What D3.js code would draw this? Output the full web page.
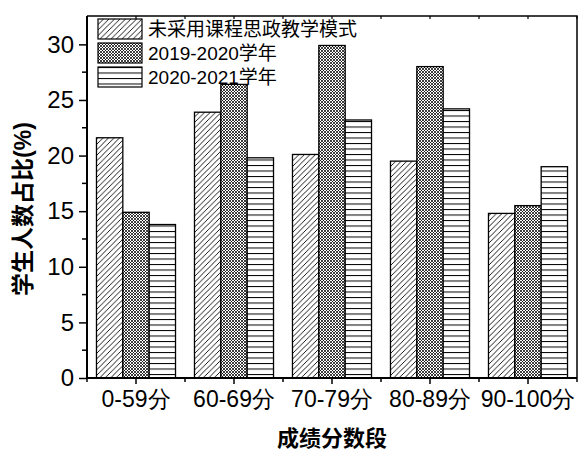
<!DOCTYPE html>
<html>
<head>
<meta charset="utf-8">
<script src="https://cdn.jsdelivr.net/npm/d3@7"></script>
<style>
  body { margin: 0; background: #fff; }
  svg { display: block; font-family: "Liberation Sans", Arial, "Noto Sans CJK SC", sans-serif; }
</style>
</head>
<body>
<svg id="chart"></svg>
<script>
const categories = ['0-59分', '60-69分', '70-79分', '80-89分', '90-100分'];
const series = ['未采用课程思政教学模式', '2019-2020学年', '2020-2021学年'];
const noIdeology = [21.6, 23.9, 20.1, 19.5, 14.8];
const year2019 = [14.9, 26.4, 29.9, 28.0, 15.5];
const year2020 = [13.8, 19.8, 23.2, 24.2, 19.0];
const yTicks = [0, 5, 10, 15, 20, 25, 30];

const W = 579, H = 452;
const margin = {top: 16, right: 2, bottom: 74, left: 87};

const svg = d3.select('#chart').attr('width', W).attr('height', H);

// fill patterns
const defs = svg.append('defs');
const diag = defs.append('pattern').attr('id', 'p0')
  .attr('patternUnits', 'userSpaceOnUse').attr('width', 5.5).attr('height', 5.5);
diag.append('rect').attr('width', 5.5).attr('height', 5.5).attr('fill', '#fff');
diag.append('path').attr('d', 'M-1,6.5 L6.5,-1 M-1,1 L1,-1 M4.5,6.5 L6.5,4.5')
  .attr('stroke', '#000').attr('stroke-width', 0.9);

const cross = defs.append('pattern').attr('id', 'p1')
  .attr('patternUnits', 'userSpaceOnUse').attr('width', 3).attr('height', 3);
cross.append('rect').attr('width', 3).attr('height', 3).attr('fill', '#fff');
cross.append('path').attr('d', 'M0,0 L3,3 M3,0 L0,3')
  .attr('stroke', '#000').attr('stroke-width', 0.75);

const horiz = defs.append('pattern').attr('id', 'p2')
  .attr('patternUnits', 'userSpaceOnUse').attr('width', 6).attr('height', 5.5);
horiz.append('rect').attr('width', 6).attr('height', 5.5).attr('fill', '#fff');
horiz.append('line').attr('x1', 0).attr('x2', 6).attr('y1', 0.5).attr('y2', 0.5)
  .attr('stroke', '#000').attr('stroke-width', 1);

const fills = ['url(#p0)', 'url(#p1)', 'url(#p2)'];

const x0 = d3.scaleBand().domain(categories)
  .range([margin.left, W - margin.right]).padding(0);
const x1 = d3.scaleBand().domain(series)
  .range([0, x0.bandwidth()]).paddingInner(0).paddingOuter(0.36);
const y = d3.scaleLinear().domain([0, 32.55])
  .range([H - margin.bottom, margin.top]);

const rows = categories.map((c, i) => ({
  cat: c,
  vals: [noIdeology[i], year2019[i], year2020[i]]
}));

// bars
svg.append('g').selectAll('g')
  .data(rows)
  .join('g')
  .attr('transform', d => `translate(${x0(d.cat)},0)`)
  .selectAll('rect')
  .data(d => d.vals.map((v, k) => ({s: series[k], v: v, k: k})))
  .join('rect')
  .attr('x', d => x1(d.s))
  .attr('y', d => y(d.v))
  .attr('width', x1.bandwidth())
  .attr('height', d => y(0) - y(d.v))
  .attr('fill', d => fills[d.k])
  .attr('stroke', '#000')
  .attr('stroke-width', 1.3);

// frame top/right
svg.append('path')
  .attr('d', `M${margin.left},${margin.top} H${W - margin.right} V${H - margin.bottom}`)
  .attr('fill', 'none').attr('stroke', '#000').attr('stroke-width', 1.5);

// top ticks (inward)
const boundaries = categories.map(c => x0(c)).concat([W - margin.right]);
const centers = categories.map(c => x0(c) + x0.bandwidth() / 2);
svg.append('g').selectAll('line')
  .data(boundaries.concat(centers))
  .join('line')
  .attr('x1', d => d).attr('x2', d => d)
  .attr('y1', margin.top).attr('y2', margin.top + 3)
  .attr('stroke', '#000').attr('stroke-width', 1.2);

// y axis
const yAxis = svg.append('g')
  .attr('transform', `translate(${margin.left},0)`)
  .call(d3.axisLeft(y).tickValues(yTicks).tickSize(8).tickPadding(5).tickFormat(d3.format('d')));
yAxis.select('.domain').remove();
yAxis.selectAll('line').attr('stroke-width', 1.5);
yAxis.selectAll('text').attr('font-size', 24).attr('fill', '#000')
  .attr('font-family', '"Liberation Sans", Arial, sans-serif');
svg.append('g').selectAll('line')
  .data(d3.range(2.5, 32.5, 5))
  .join('line')
  .attr('x1', margin.left - 5).attr('x2', margin.left)
  .attr('y1', d => y(d)).attr('y2', d => y(d))
  .attr('stroke', '#000').attr('stroke-width', 1.5);
svg.append('line')
  .attr('x1', margin.left).attr('x2', margin.left)
  .attr('y1', margin.top).attr('y2', H - margin.bottom + 1)
  .attr('stroke', '#000').attr('stroke-width', 2);

// x axis
const xAxis = svg.append('g')
  .attr('transform', `translate(0,${H - margin.bottom})`)
  .call(d3.axisBottom(x0).tickSize(6).tickPadding(7));
xAxis.select('.domain').remove();
xAxis.selectAll('line').attr('stroke-width', 1.5);
xAxis.selectAll('text').attr('font-size', 23).attr('fill', '#000');
svg.append('g').selectAll('line')
  .data(boundaries)
  .join('line')
  .attr('x1', d => d).attr('x2', d => d)
  .attr('y1', H - margin.bottom).attr('y2', H - margin.bottom + 4)
  .attr('stroke', '#000').attr('stroke-width', 1.5);
svg.append('line')
  .attr('x1', margin.left - 1).attr('x2', W - margin.right)
  .attr('y1', H - margin.bottom).attr('y2', H - margin.bottom)
  .attr('stroke', '#000').attr('stroke-width', 2);

// axis titles
svg.append('text')
  .attr('x', (margin.left + W - margin.right) / 2)
  .attr('y', 446)
  .attr('text-anchor', 'middle')
  .attr('font-size', 22).attr('font-weight', 'bold')
  .text('成绩分数段');
svg.append('text')
  .attr('transform', `translate(31,209) rotate(-90)`)
  .attr('text-anchor', 'middle')
  .attr('font-size', 23).attr('font-weight', 'bold')
  .text('学生人数占比(%)');

// legend
const legend = svg.append('g').attr('transform', 'translate(98,19)');
const item = legend.selectAll('g')
  .data(series)
  .join('g')
  .attr('transform', (d, i) => `translate(0,${i * 24})`);
item.append('rect')
  .attr('width', 44).attr('height', 20)
  .attr('fill', (d, i) => fills[i])
  .attr('stroke', '#000').attr('stroke-width', 1.2);
item.append('text')
  .attr('x', 50).attr('y', 17)
  .attr('font-size', 19)
  .text(d => d);
</script>
</body>
</html>
